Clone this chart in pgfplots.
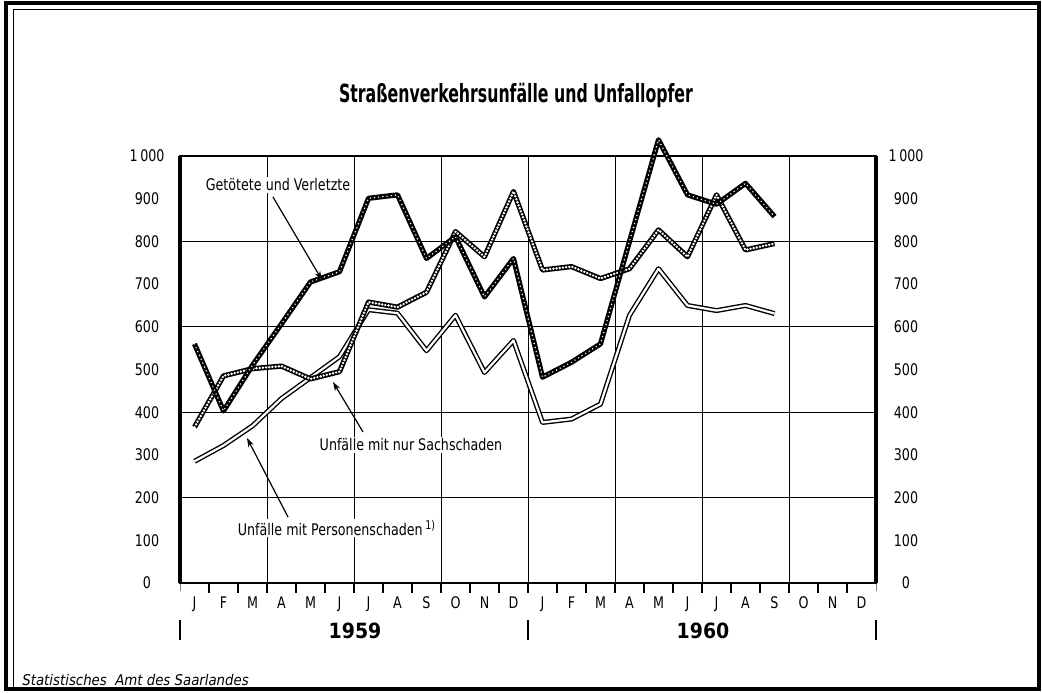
\documentclass[border=0pt]{standalone}
\usepackage{fontspec}
\setmainfont{DejaVu Sans Condensed}
\newfontfamily\titlefont[FakeStretch=0.7]{DejaVu Sans Condensed}
\newfontfamily\narrowfont[FakeStretch=0.88]{DejaVu Sans Condensed}
\usepackage{pgfplots}
\usepackage{pgfplotstable}
\pgfplotsset{compat=1.18}
\usetikzlibrary{arrows.meta}

\pgfplotstableread{
x G S P
0.5 560 365 285
1.5 403 485 322
2.5 510 502 368
3.5 607 508 432
4.5 705 478 481
5.5 729 495 530
6.5 901 658 640
7.5 909 646 632
8.5 760 681 544
9.5 811 823 627
10.5 670 764 493
11.5 760 917 568
12.5 482 733 376
13.5 517 741 384
14.5 560 713 419
15.5 800 736 627
16.5 1038 827 736
17.5 909 764 650
18.5 887 909 638
19.5 936 780 650
20.5 858 795 631
}\data

\pgfplotsset{
  base/.style={at={(0,0)},anchor=south west,scale only axis,width=348pt,height=213.5pt,
    xmin=0,xmax=24,ymin=0,ymax=1000},
  darkline/.style={black,line width=2.6pt,line join=round},
  darkdots/.style={white,line width=0.8pt,line cap=round,dash pattern=on 0pt off 2.1pt,line join=round},
  lightline/.style={black,line width=2.6pt,line join=round},
  lightdots/.style={white,line width=1.35pt,line cap=round,dash pattern=on 0pt off 1.6pt,line join=round},
  dblout/.style={black,line width=2.5pt,line join=round},
  dblin/.style={white,line width=1.1pt,line join=round},
}

\begin{document}
\begin{tikzpicture}[font=\narrowfont\fontsize{8}{9.5}\selectfont]
\useasboundingbox (-90pt,-54.5pt) rectangle (431pt,291.5pt);
\fill[white] (-90pt,-54.5pt) rectangle (431pt,291.5pt);
\draw[line width=1.6pt] (-87pt,-53pt) rectangle (429.5pt,290pt);
\draw[line width=0.5pt] (-83pt,-53pt) -- (-83pt,286.5pt) -- (429.5pt,286.5pt);

% grid
\begin{axis}[base,
  xtick={3,6,...,21}, ytick={200,400,600,800},
  grid=major, grid style={black,line width=0.45pt},
  xticklabels={}, yticklabels={}, major tick length=0pt,
  axis line style={draw=none}]
\end{axis}

% main
\begin{axis}[base, clip=false,
  axis line style={line width=0.6pt},
  xtick={0,...,24},
  xticklabels={J,F,M,A,M,J,J,A,S,O,N,D,J,F,M,A,M,J,J,A,S,O,N,D},
  x tick label as interval,
  xtick pos=bottom, tick align=outside,
  major tick length=4pt,
  ytick={0,100,...,1000},
  yticklabels={0,100,200,300,400,500,600,700,800,900,1\,000},
  ytick pos=left, ytick style={draw=none},
  yticklabel style={anchor=center,xshift=-12.5pt},
  xticklabel style={yshift=0.5pt},
  tick label style={font=\narrowfont\fontsize{8}{9.5}\selectfont},
]
\addplot[dblout] table[x=x,y=P]{\data};
\addplot[dblin] table[x=x,y=P]{\data};
\addplot[lightline] table[x=x,y=S]{\data};
\addplot[lightdots] table[x=x,y=S]{\data};
\addplot[darkline] table[x=x,y=G]{\data};
\addplot[darkdots] table[x=x,y=G]{\data};
\draw[line width=2pt] (rel axis cs:0,0) -- (rel axis cs:0,1);
\draw[line width=1.6pt] (rel axis cs:1,0) -- (rel axis cs:1,1);
\draw[line width=1.1pt] (rel axis cs:0,0) -- (rel axis cs:1,0);
\end{axis}

% month ticks
\foreach \i in {1,...,23} {
  \draw[line width=0.8pt] (\i*14.5pt,-0.5pt) -- (\i*14.5pt,-5pt);
}

% right labels
\begin{axis}[base, axis line style={draw=none}, xtick=\empty,
  ytick={0,100,...,1000},
  yticklabels={0,100,200,300,400,500,600,700,800,900,1\,000},
  ytick pos=right, yticklabel pos=right, ytick style={draw=none},
  yticklabel style={anchor=center,xshift=15pt},
  tick label style={font=\narrowfont\fontsize{8}{9.5}\selectfont}]
\end{axis}

% title
\node at (168pt,244pt) {\titlefont\bfseries\fontsize{12.5}{14}\selectfont Straßenverkehrsunfälle und Unfallopfer};

% annotations
\node[fill=white,inner sep=1pt] at (49pt,199pt) {Getötete und Verletzte};
\draw[line width=0.6pt,-{Stealth[length=4.5pt,width=3pt]}] (46.5pt,193pt) -- (71pt,151.5pt);
\node[fill=white,inner sep=1pt] at (115.5pt,69pt) {Unfälle mit nur Sachschaden};
\draw[line width=0.6pt,-{Stealth[length=4.5pt,width=3pt]}] (91.5pt,75.5pt) -- (76.5pt,100.5pt);
\node[fill=white,inner sep=1pt] at (78.5pt,27.5pt) {Unfälle mit Personenschaden\,\textsuperscript{1)}};
\draw[line width=0.6pt,-{Stealth[length=4.5pt,width=3pt]}] (54pt,33pt) -- (33.5pt,72.5pt);

% years
\draw[line width=0.8pt] (0pt,-18.5pt) -- (0pt,-28.5pt);
\draw[line width=0.8pt] (174pt,-18.5pt) -- (174pt,-28.5pt);
\draw[line width=0.8pt] (348pt,-18.5pt) -- (348pt,-28.5pt);
\node at (87.5pt,-24pt) {\normalfont\fontsize{10.5}{12}\selectfont\bfseries 1959};
\node at (261.5pt,-24pt) {\normalfont\fontsize{10.5}{12}\selectfont\bfseries 1960};

% source
\node[anchor=west,inner sep=0pt] at (-79pt,-48.5pt) {\normalfont\itshape\fontsize{7.4}{9}\selectfont Statistisches\ \ Amt des Saarlandes};
\end{tikzpicture}
\end{document}
